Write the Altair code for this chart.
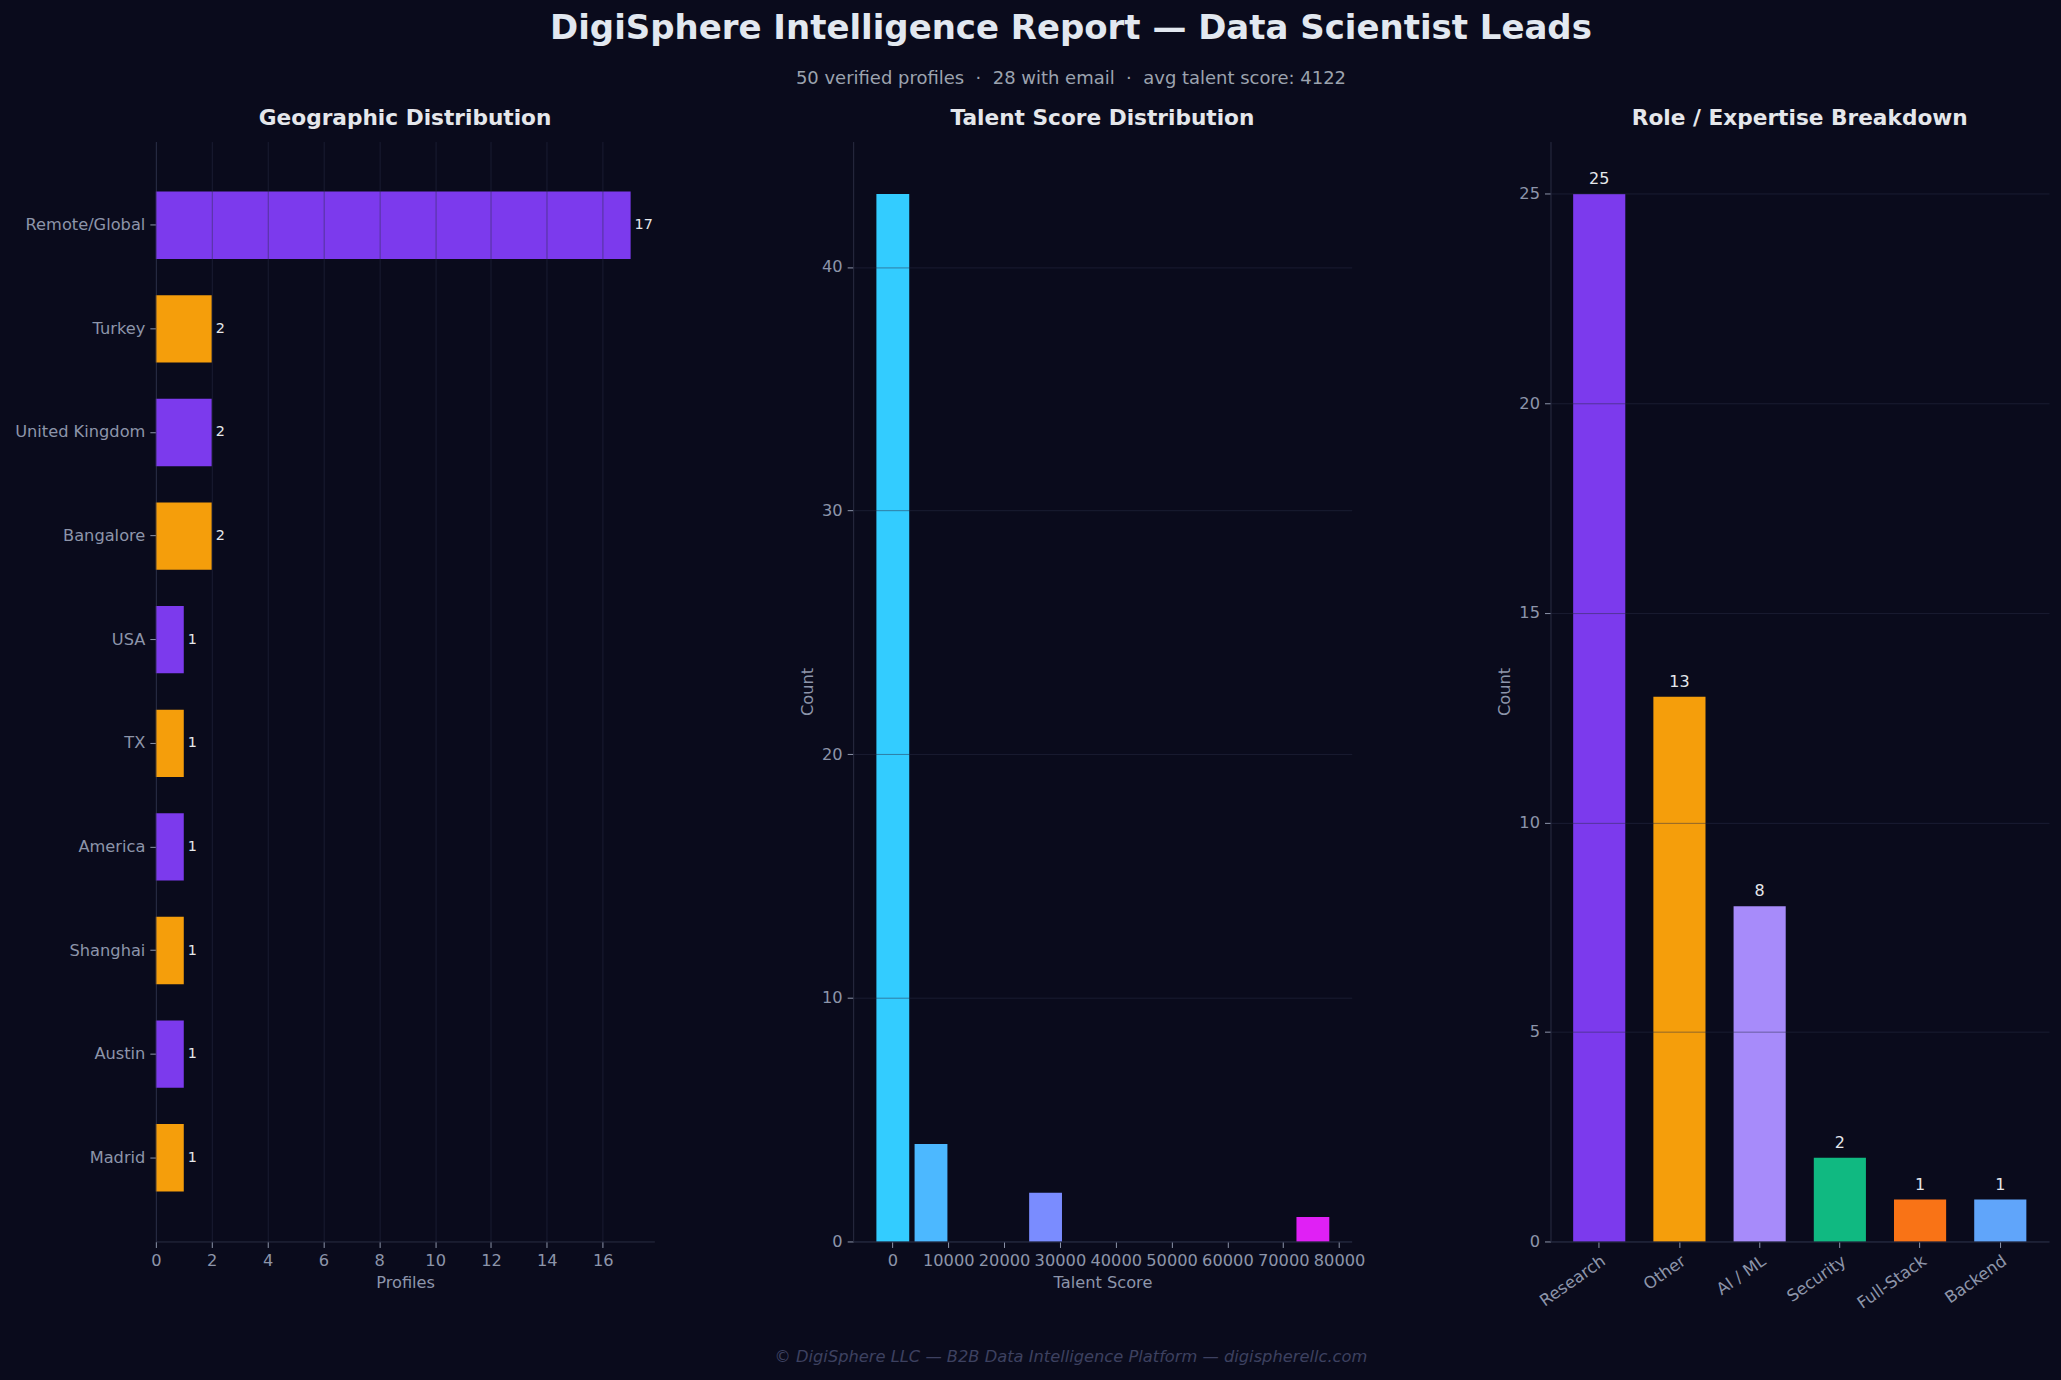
import altair as alt
import pandas as pd

BG = "#0a0b1c"
FONT = "DejaVu Sans"
LABEL_GREY = "#8d95aa"
LIGHT = "#e5e7eb"
NB = "\u00a0"

# ---------------- data ----------------
geo_locations = ["Remote/Global", "Turkey", "United Kingdom", "Bangalore", "USA",
                 "TX", "America", "Shanghai", "Austin", "Madrid"]
geo_counts = [17, 2, 2, 2, 1, 1, 1, 1, 1, 1]
geo_colors = ["#7c3aed", "#f59e0b", "#7c3aed", "#f59e0b", "#7c3aed",
              "#f59e0b", "#7c3aed", "#f59e0b", "#7c3aed", "#f59e0b"]

score_bin_index = [0, 1, 4, 11]
score_counts = [43, 4, 2, 1]
score_colors = ["#33ccff", "#4cb8ff", "#7a8cff", "#e020f5"]
score_bin_start = -3350
score_bin_width = 6840
score_rwidth = 0.86
score_ticks = [0, 10000, 20000, 30000, 40000, 50000, 60000, 70000, 80000]

role_names = ["Research", "Other", "AI / ML", "Security", "Full-Stack", "Backend"]
role_counts = [25, 13, 8, 2, 1, 1]
role_colors = ["#7c3aed", "#f59e0b", "#a78bfa", "#10b981", "#f97316", "#60a5fa"]

title_text = "DigiSphere Intelligence Report \u2014 Data Scientist Leads"
subtitle_text = ("50 verified profiles" + NB * 2 + "\u00b7" + NB * 2 + "28 with email"
                 + NB * 2 + "\u00b7" + NB * 2 + "avg talent score: 4122")
footer_text = "\u00a9 DigiSphere LLC \u2014 B2B Data Intelligence Platform \u2014 digispherellc.com"
panel_titles = ["Geographic Distribution", "Talent Score Distribution", "Role / Expertise Breakdown"]

W, H = 499, 1101
PLOT_TOP = 141


def text_layer(t, x, y, **kw):
    return alt.Chart(pd.DataFrame({"t": [t]})).mark_text(
        font=FONT, align="center", baseline="middle", **kw
    ).encode(x=alt.value(x), y=alt.value(y), text="t:N")


def panel_title(t):
    return text_layer(t, W / 2, 117 - PLOT_TOP, fontSize=21.7, fontWeight="bold", color=LIGHT)


# ---------------- panel 1 ----------------
geo_df = pd.DataFrame({"location": geo_locations, "count": geo_counts, "color": geo_colors})
base1 = alt.Chart(geo_df).encode(
    y=alt.Y("location:N", sort=geo_locations,
            scale=alt.Scale(paddingInner=0.35, paddingOuter=0.4825),
            axis=alt.Axis(title=None, grid=False)),
    x=alt.X("count:Q", scale=alt.Scale(domain=[0, 17.85], nice=False),
            axis=alt.Axis(values=list(range(0, 17, 2)), title="Profiles", grid=True, zindex=1)),
)
bars1 = base1.mark_bar().encode(color=alt.Color("color:N", scale=None))
text1 = base1.mark_text(align="left", baseline="middle", dx=4, fontSize=14.4,
                        color=LIGHT, font=FONT).encode(text="count:Q")
panel1 = alt.layer(bars1, text1, panel_title(panel_titles[0])).properties(width=W, height=H)

# ---------------- panel 2 ----------------
score_df = pd.DataFrame({"bin": score_bin_index, "count": score_counts, "color": score_colors})
gap = (1 - score_rwidth) / 2 * score_bin_width
score_df["start"] = score_bin_start + score_df["bin"] * score_bin_width + gap
score_df["end"] = score_bin_start + (score_df["bin"] + 1) * score_bin_width - gap
score_df["base"] = 0

bars2 = alt.Chart(score_df).mark_bar().encode(
    x=alt.X("start:Q", scale=alt.Scale(domain=[-7030, 82260], nice=False, zero=False),
            axis=alt.Axis(values=score_ticks, format="d", title="Talent Score", grid=False)),
    x2="end:Q",
    y=alt.Y("count:Q", scale=alt.Scale(domain=[0, 45.15], nice=False),
            axis=alt.Axis(values=[0, 10, 20, 30, 40], title="Count", grid=True, zindex=1)),
    y2="base:Q",
    color=alt.Color("color:N", scale=None),
)

cx = 1071 - 853
title_mark = text_layer(title_text, cx, 28.5 - PLOT_TOP, fontSize=34, fontWeight="bold", color="#e2e8f0")
subtitle_mark = text_layer(subtitle_text, cx, 78.5 - PLOT_TOP, fontSize=18, color="#9ca3af")
footer_mark = text_layer(footer_text, cx, 1358 - PLOT_TOP, fontSize=16.3, fontStyle="italic", color="#3d4160")

panel2 = alt.layer(bars2, panel_title(panel_titles[1]), title_mark, subtitle_mark, footer_mark).properties(
    width=W, height=H)

# ---------------- panel 3 ----------------
role_df = pd.DataFrame({"role": role_names, "count": role_counts, "color": role_colors})
base3 = alt.Chart(role_df).encode(
    x=alt.X("role:N", sort=role_names,
            scale=alt.Scale(paddingInner=0.35, paddingOuter=0.2825),
            axis=alt.Axis(title=None, labelAngle=325, labelAlign="right",
                          labelBaseline="top", labelFontSize=16.5, grid=False)),
    y=alt.Y("count:Q", scale=alt.Scale(domain=[0, 26.25], nice=False),
            axis=alt.Axis(values=[0, 5, 10, 15, 20, 25], title="Count", grid=True, zindex=1)),
)
bars3 = base3.mark_bar().encode(color=alt.Color("color:N", scale=None))
text3 = base3.mark_text(align="center", baseline="middle", dy=-15, fontSize=16,
                        color=LIGHT, font=FONT).encode(text="count:Q")
panel3 = alt.layer(bars3, text3, panel_title(panel_titles[2])).properties(width=W, height=H)

chart = alt.hconcat(panel1, panel2, panel3, spacing=199, bounds="flush").properties(
    background=BG,
    padding={"left": 14, "top": 11, "right": 12, "bottom": 16},
).configure_view(stroke=None).configure_axis(
    labelFont=FONT, titleFont=FONT, labelFontSize=16.25, titleFontSize=16.25,
    labelColor=LABEL_GREY, titleColor=LABEL_GREY, titleFontWeight="normal",
    domainColor="#2a2d42", tickColor=LABEL_GREY, tickSize=6, labelPadding=5,
    titlePadding=6, gridColor="#2a2e48", gridOpacity=0.5, labelFlush=False,
).configure_axisY(labelAlign="right").configure_axisBand(labelPadding=5)

chart.save("out.html", embed_options={"renderer": "svg", "actions": False})
